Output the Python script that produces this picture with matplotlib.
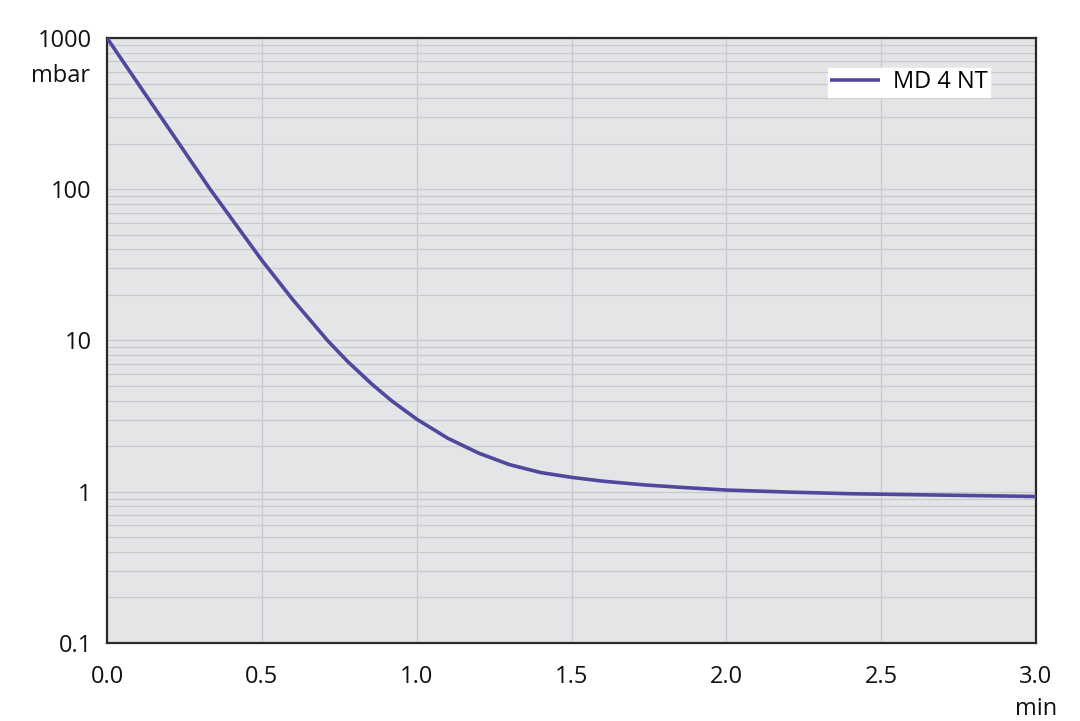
import matplotlib.pyplot as plt
import matplotlib.ticker as ticker

plt.rcParams['font.family'] = ['Open Sans', 'DejaVu Sans']

# pump-down curve
time_min = [0.0, 0.1, 0.2, 0.333, 0.5, 0.6, 0.712, 0.775, 0.856, 0.92,
            1.0, 1.1, 1.2, 1.3, 1.4, 1.5, 1.6, 1.734, 1.85, 2.0,
            2.2, 2.4, 2.7, 3.0]
pressure = [1000, 500, 251, 100, 33.9, 18.6, 10, 7.33, 5.13, 3.98,
            3.02, 2.26, 1.80, 1.51, 1.34, 1.245, 1.175, 1.11, 1.07, 1.026,
            0.995, 0.97, 0.95, 0.93]
legend_label = 'MD 4 NT'

xticks = [0.0, 0.5, 1.0, 1.5, 2.0, 2.5, 3.0]
xtick_labels = ['0.0', '0.5', '1.0', '1.5', '2.0', '2.5', '3.0']
yticks = [0.1, 1, 10, 100, 1000]
ytick_labels = ['0.1', '1', '10', '100', '1000']

fig = plt.figure(figsize=(10.8, 7.21), dpi=100)
ax = fig.add_axes([0.0991, 0.1082, 0.8602, 0.8391])
ax.set_facecolor('#e4e5e7')

ax.plot(time_min, pressure, color='#4f489c', lw=2.6, label=legend_label,
        solid_capstyle='butt', zorder=3)

ax.set_yscale('log')
ax.set_xlim(0, 3.0)
ax.set_ylim(0.1, 1000)
ax.set_xticks(xticks)
ax.set_xticklabels(xtick_labels)
ax.set_yticks(yticks)
ax.set_yticklabels(ytick_labels)
ax.yaxis.set_minor_locator(ticker.LogLocator(base=10, subs=range(2, 10)))
ax.yaxis.set_minor_formatter(ticker.NullFormatter())

ax.grid(True, which='major', color='#c9cacd', lw=0.9)
ax.grid(True, which='minor', axis='y', color='#c9cacd', lw=0.9)
ax.set_axisbelow(True)

ax.tick_params(which='both', length=0, labelsize=17, colors='#111111')
ax.tick_params(axis='y', pad=11)
ax.tick_params(axis='x', pad=16)

for s in ax.spines.values():
    s.set_color('#2a2a2a')
    s.set_linewidth(1.6)

# unit labels
ax.text(-0.0183, 0.928, 'mbar', transform=ax.transAxes, ha='right', va='baseline',
        fontsize=17, color='#111111')
ax.text(1.0, -0.119, 'min', transform=ax.transAxes, ha='center', va='baseline',
        fontsize=17, color='#111111')

leg = ax.legend(loc='upper right', bbox_to_anchor=(0.9505, 0.9504), fontsize=17,
                frameon=True, fancybox=False, handlelength=2.1, handletextpad=0.55,
                borderpad=0.1, borderaxespad=0)
leg.get_frame().set_facecolor('white')
leg.get_frame().set_edgecolor('white')
leg.get_frame().set_alpha(1)

fig.savefig('out.png', dpi=100)
